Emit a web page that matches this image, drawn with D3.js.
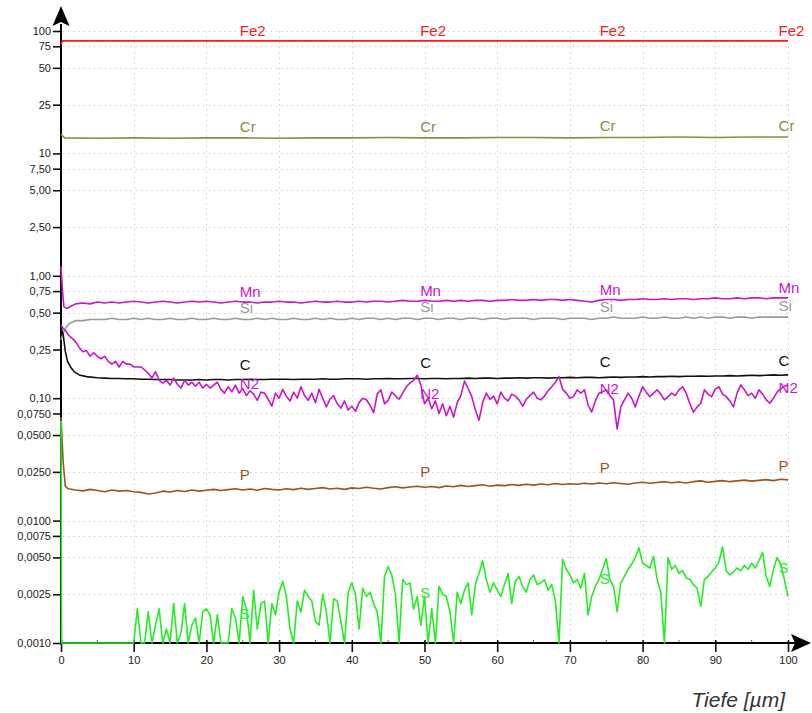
<!DOCTYPE html>
<html>
<head>
<meta charset="utf-8">
<script src="https://cdn.jsdelivr.net/npm/d3@7"></script>
<style>
  body { margin: 0; background: #fff; }
  svg { display: block; }
</style>
</head>
<body>
<svg id="chart" width="812" height="713"></svg>
<script>
// ---------- axis ticks ----------
const depthTicks = [0, 10, 20, 30, 40, 50, 60, 70, 80, 90, 100];
const depthMinorTicks = [5, 15, 25, 35, 45, 55, 65, 75, 85, 95];
const concTicks = [100, 75, 50, 25, 10, 7.5, 5, 2.5, 1, 0.75, 0.5, 0.25, 0.1,
                   0.075, 0.05, 0.025, 0.01, 0.0075, 0.005, 0.0025, 0.001];
const concTickLabels = ["100", "75", "50", "25", "10", "7,50", "5,00", "2,50", "1,00",
                        "0,75", "0,50", "0,25", "0,10", "0,0750", "0,0500", "0,0250",
                        "0,0100", "0,0075", "0,0050", "0,0025", "0,0010"];
const labelDepths = [24.6, 49.4, 74.1, 98.7];
const axisTitle = "Tiefe [µm]";

// ---------- element profiles (depth µm, concentration) ----------
// each profile: explicit start points, then values on a regular depth grid
const fe2Head = [[0, 78], [0.2, 83]];
const fe2Values = [83, 83, 83, 83, 83, 83, 83, 83, 83, 83];               // 10..100 step 10

const crHead = [[0, 14.3], [0.5, 13.4]];
const crValues = [13.3, 13.4, 13.3, 13.4, 13.4, 13.3, 13.4, 13.4, 13.5, 13.4,
                  13.4, 13.5, 13.5, 13.4, 13.5, 13.5, 13.6, 13.5, 13.6, 13.6]; // 5..100 step 5

const mnHead = [[0, 1.2], [0.2, 0.75], [0.4, 0.56], [0.8, 0.54], [1.5, 0.57]];
const mnValues = [                                                         // 2..100 step 1
  0.59, 0.60, 0.59, 0.61, 0.60, 0.61, 0.60, 0.61, 0.62,
  0.61, 0.60, 0.61, 0.62, 0.61, 0.60, 0.61, 0.62, 0.61, 0.62,
  0.61, 0.60, 0.61, 0.62, 0.61, 0.61, 0.60, 0.61, 0.61, 0.62,
  0.61, 0.61, 0.60, 0.61, 0.62, 0.61, 0.61, 0.62, 0.61, 0.61,
  0.62, 0.61, 0.62, 0.62, 0.61, 0.62, 0.63, 0.62, 0.62, 0.63,
  0.62, 0.62, 0.63, 0.62, 0.63, 0.62, 0.63, 0.63, 0.62, 0.63,
  0.63, 0.64, 0.63, 0.63, 0.64, 0.63, 0.64, 0.64, 0.63, 0.64,
  0.63, 0.62, 0.61, 0.63, 0.64, 0.64, 0.63, 0.64, 0.64, 0.65,
  0.64, 0.64, 0.65, 0.64, 0.65, 0.65, 0.64, 0.65, 0.65, 0.66,
  0.65, 0.65, 0.66, 0.65, 0.66, 0.66, 0.65, 0.66, 0.66, 0.66];

const siHead = [[0, 0.30], [0.3, 0.34], [0.7, 0.38], [1.2, 0.41], [2, 0.43]];
const siValues = [                                                         // 3..100 step 1
  0.43, 0.44, 0.44, 0.44, 0.45, 0.44, 0.44, 0.45,
  0.44, 0.45, 0.44, 0.44, 0.45, 0.44, 0.44, 0.45, 0.44, 0.44,
  0.45, 0.44, 0.44, 0.45, 0.44, 0.44, 0.45, 0.44, 0.45, 0.44,
  0.44, 0.45, 0.44, 0.44, 0.45, 0.44, 0.45, 0.44, 0.44, 0.45,
  0.44, 0.45, 0.45, 0.44, 0.45, 0.44, 0.45, 0.45, 0.44, 0.45,
  0.45, 0.44, 0.45, 0.45, 0.44, 0.45, 0.45, 0.44, 0.45, 0.45,
  0.44, 0.45, 0.45, 0.45, 0.44, 0.45, 0.45, 0.45, 0.44, 0.45,
  0.45, 0.45, 0.44, 0.45, 0.45, 0.46, 0.45, 0.45, 0.45, 0.46,
  0.45, 0.45, 0.46, 0.45, 0.45, 0.46, 0.45, 0.46, 0.45, 0.46,
  0.46, 0.45, 0.46, 0.46, 0.45, 0.46, 0.46, 0.46, 0.46, 0.46];

const cHead = [[0, 0.38], [0.3, 0.33], [0.6, 0.24], [0.9, 0.20], [1.3, 0.18],
               [1.8, 0.165], [2.5, 0.155], [3.5, 0.150], [5, 0.147]];
const cValues = [                                                          // 6..100 step 1
  0.146, 0.145, 0.145, 0.144, 0.144,
  0.143, 0.143, 0.142, 0.142, 0.142, 0.141, 0.141, 0.141, 0.142, 0.141,
  0.142, 0.142, 0.141, 0.142, 0.142, 0.143, 0.142, 0.142, 0.143, 0.143,
  0.143, 0.142, 0.143, 0.143, 0.143, 0.144, 0.143, 0.143, 0.144, 0.144,
  0.144, 0.143, 0.144, 0.144, 0.145, 0.144, 0.144, 0.145, 0.145, 0.144,
  0.145, 0.145, 0.144, 0.145, 0.145, 0.146, 0.145, 0.146, 0.146, 0.145,
  0.146, 0.146, 0.147, 0.146, 0.147, 0.147, 0.146, 0.147, 0.147, 0.148,
  0.147, 0.148, 0.148, 0.147, 0.148, 0.149, 0.148, 0.149, 0.149, 0.150,
  0.149, 0.150, 0.150, 0.151, 0.150, 0.151, 0.151, 0.152, 0.151, 0.152,
  0.152, 0.153, 0.152, 0.153, 0.154, 0.153, 0.154, 0.155, 0.154, 0.155];

const n2Head = [[0, 0.40], [0.3, 0.37], [0.6, 0.36], [1, 0.33]];
const n2Values = [                                                         // 1.5..100 step 0.5
  0.31, 0.29, 0.26, 0.24, 0.245, 0.22, 0.235, 0.22, 0.21, 0.22,
  0.20, 0.19, 0.20, 0.18, 0.20, 0.19, 0.19, 0.18, 0.18, 0.18,
  0.17, 0.16, 0.146, 0.165, 0.14, 0.133, 0.14, 0.128, 0.146, 0.13,
  0.121, 0.14, 0.128, 0.135, 0.125, 0.135, 0.121, 0.13, 0.121, 0.128,
  0.135, 0.118, 0.110, 0.124, 0.113, 0.128, 0.110, 0.120, 0.105, 0.115,
  0.108, 0.096, 0.112, 0.110, 0.098, 0.086, 0.110, 0.100, 0.118, 0.104,
  0.095, 0.112, 0.100, 0.124, 0.105, 0.096, 0.110, 0.092, 0.118, 0.100,
  0.085, 0.098, 0.105, 0.090, 0.083, 0.095, 0.080, 0.086, 0.078, 0.092,
  0.100, 0.097, 0.088, 0.076, 0.108, 0.117, 0.090, 0.096, 0.112, 0.105,
  0.098, 0.110, 0.124, 0.133, 0.140, 0.154, 0.128, 0.090, 0.100, 0.082,
  0.095, 0.075, 0.090, 0.072, 0.086, 0.070, 0.092, 0.105, 0.138, 0.120,
  0.103, 0.080, 0.066, 0.092, 0.110, 0.098, 0.104, 0.090, 0.112, 0.100,
  0.095, 0.108, 0.104, 0.097, 0.086, 0.098, 0.105, 0.112, 0.100, 0.097,
  0.104, 0.115, 0.124, 0.135, 0.150, 0.118, 0.110, 0.100, 0.103, 0.117,
  0.110, 0.117, 0.088, 0.077, 0.095, 0.110, 0.113, 0.117, 0.105, 0.097,
  0.056, 0.085, 0.097, 0.110, 0.100, 0.085, 0.104, 0.124, 0.112, 0.103,
  0.110, 0.117, 0.108, 0.097, 0.103, 0.110, 0.105, 0.117, 0.124, 0.110,
  0.090, 0.077, 0.085, 0.091, 0.117, 0.108, 0.103, 0.119, 0.124, 0.108,
  0.103, 0.095, 0.085, 0.110, 0.128, 0.117, 0.105, 0.110, 0.100, 0.117,
  0.108, 0.097, 0.091, 0.100, 0.112, 0.120, 0.125, 0.128];

const pHead = [[0, 0.07], [0.3, 0.03], [0.6, 0.019]];
const pValues = [                                                          // 1..100 step 1
  0.0182, 0.0178, 0.0175, 0.0180, 0.0176, 0.0172, 0.0178, 0.0174, 0.0176, 0.0172,
  0.0170, 0.0165, 0.0168, 0.0174, 0.0171, 0.0176, 0.0173, 0.0178, 0.0174, 0.0177,
  0.0180, 0.0176, 0.0179, 0.0182, 0.0178, 0.0181, 0.0177, 0.0183, 0.0180, 0.0178,
  0.0182, 0.0179, 0.0184, 0.0180, 0.0183, 0.0186, 0.0181, 0.0184, 0.0180, 0.0185,
  0.0183, 0.0187, 0.0184, 0.0181, 0.0186, 0.0189, 0.0185, 0.0188, 0.0191, 0.0187,
  0.0190, 0.0186, 0.0192, 0.0189, 0.0194, 0.0190, 0.0193, 0.0196, 0.0191, 0.0195,
  0.0193, 0.0197, 0.0194, 0.0198, 0.0195, 0.0199, 0.0196, 0.0201, 0.0197, 0.0200,
  0.0198, 0.0202, 0.0199, 0.0203, 0.0200, 0.0204, 0.0201, 0.0198, 0.0203, 0.0206,
  0.0202, 0.0205, 0.0208, 0.0204, 0.0207, 0.0203, 0.0208, 0.0211, 0.0206, 0.0209,
  0.0212, 0.0208, 0.0211, 0.0214, 0.0210, 0.0213, 0.0216, 0.0212, 0.0218, 0.0215];

const sHead = [[0, 0.065], [0.08, 0.001], [9.5, 0.001]];
const sValues = [                                                          // 10..100 step 0.5
  0.001, 0.0019, 0.001, 0.001, 0.0018, 0.001, 0.0014, 0.0019, 0.001, 0.0013,
  0.001, 0.0021, 0.001, 0.0012, 0.0021, 0.001, 0.0014, 0.0016, 0.001, 0.0018,
  0.0019, 0.0017, 0.001, 0.0017, 0.001, 0.001, 0.001, 0.0019, 0.0016, 0.001,
  0.0024, 0.0019, 0.001, 0.0027, 0.0013, 0.0021, 0.0022, 0.001, 0.0021, 0.0017,
  0.0026, 0.0032, 0.0024, 0.0013, 0.001, 0.0022, 0.0018, 0.0027, 0.0024, 0.0022,
  0.0015, 0.0014, 0.0025, 0.0018, 0.001, 0.0023, 0.0022, 0.0015, 0.001, 0.0026,
  0.0031, 0.0025, 0.0013, 0.0028, 0.0024, 0.0026, 0.0021, 0.0018, 0.001, 0.0035,
  0.0042, 0.0036, 0.0025, 0.001, 0.0033, 0.0030, 0.0031, 0.0019, 0.0024, 0.0014,
  0.0024, 0.001, 0.0019, 0.001, 0.0029, 0.0025, 0.0024, 0.0018, 0.001, 0.0026,
  0.0021, 0.0027, 0.0031, 0.0017, 0.0030, 0.0037, 0.0047, 0.0033, 0.0026, 0.0031,
  0.0027, 0.0024, 0.0030, 0.0037, 0.0021, 0.0032, 0.0035, 0.0029, 0.0026, 0.0033,
  0.0036, 0.0030, 0.0031, 0.0033, 0.0027, 0.0030, 0.0022, 0.001, 0.0048, 0.0040,
  0.0036, 0.0031, 0.0033, 0.0028, 0.0037, 0.0017, 0.0024, 0.0029, 0.0033, 0.0040,
  0.0049, 0.0033, 0.0029, 0.0018, 0.0031, 0.0035, 0.0040, 0.0044, 0.0050, 0.0060,
  0.0045, 0.0043, 0.0041, 0.0051, 0.0033, 0.0026, 0.001, 0.0050, 0.0040, 0.0043,
  0.0037, 0.0039, 0.0034, 0.0033, 0.0030, 0.0028, 0.0020, 0.0033, 0.0035, 0.0038,
  0.0041, 0.0046, 0.0061, 0.0039, 0.0036, 0.0038, 0.0041, 0.0039, 0.0043, 0.0040,
  0.0045, 0.0041, 0.0047, 0.0055, 0.0035, 0.0029, 0.0040, 0.0050, 0.0044, 0.0033,
  0.0024];

// ---------- assemble profiles ----------
function profile(head, start, step, values) {
  return head.concat(values.map((v, i) => [start + i * step, v]));
}
// labelDy: baseline offset of the element name relative to the local profile level
const series = [
  { name: "Fe2", color: "#ff1a1a", labelDy: -5,  points: profile(fe2Head, 10, 10, fe2Values) },
  { name: "Cr",  color: "#8c8c40", labelDy: -6,  points: profile(crHead, 5, 5, crValues) },
  { name: "Mn",  color: "#cc14cc", labelDy: -5,  points: profile(mnHead, 2, 1, mnValues) },
  { name: "Si",  color: "#9a9a9a", labelDy: -6,  points: profile(siHead, 3, 1, siValues) },
  { name: "C",   color: "#111111", labelDy: -10, points: profile(cHead, 6, 1, cValues) },
  { name: "N2",  color: "#cc14cc", labelDy: -1,  points: profile(n2Head, 1.5, 0.5, n2Values) },
  { name: "P",   color: "#a0521a", labelDy: -10, points: profile(pHead, 1, 1, pValues) },
  { name: "S",   color: "#22ee22", labelDy: 4,   points: profile(sHead, 10, 0.5, sValues) }
];

// ---------- layout ----------
const svg = d3.select("#chart");
const font = "Arial, 'Liberation Sans', sans-serif";
const x = d3.scaleLinear().domain([0, 100]).range([61, 788]);
const y = d3.scaleLog().domain([0.001, 100]).range([643, 31]);

// dotted grid
const grid = svg.append("g").attr("stroke", "#c4c4c4").attr("stroke-width", 1)
  .attr("stroke-dasharray", "1.2,4");
grid.selectAll("line.h").data(concTicks.filter(v => v > 0.001)).join("line")
  .attr("x1", x(0) + 2).attr("x2", x(100))
  .attr("y1", d => Math.round(y(d)) + 0.5).attr("y2", d => Math.round(y(d)) + 0.5);
grid.selectAll("line.v").data(depthTicks.filter(d => d > 0)).join("line")
  .attr("x1", d => Math.round(x(d)) + 0.5).attr("x2", d => Math.round(x(d)) + 0.5)
  .attr("y1", y(0.001) - 2).attr("y2", y(100));

// y axis (concentration)
const yAxis = svg.append("g").attr("transform", `translate(${x(0)},0)`)
  .call(d3.axisLeft(y).tickValues(concTicks)
    .tickFormat((d, i) => concTickLabels[i]).tickSize(8).tickPadding(2));
yAxis.select(".domain").remove();
yAxis.selectAll(".tick line").attr("stroke", "#111").attr("stroke-width", 1.6);
yAxis.selectAll(".tick text").attr("font-family", font).attr("font-size", 11)
  .attr("fill", "#222");

// x axis (depth)
const xAxis = svg.append("g").attr("transform", `translate(0,${y(0.001)})`)
  .call(d3.axisBottom(x).tickValues(depthTicks).tickFormat(d3.format("d"))
    .tickSize(9).tickPadding(4));
xAxis.select(".domain").remove();
xAxis.selectAll(".tick line").attr("stroke", "#111").attr("stroke-width", 1.6)
  .attr("y1", -3);
xAxis.selectAll(".tick text").attr("font-family", font).attr("font-size", 11)
  .attr("fill", "#222");
svg.append("g").selectAll("line").data(depthMinorTicks).join("line")
  .attr("x1", d => x(d)).attr("x2", d => x(d))
  .attr("y1", y(0.001) - 3).attr("y2", y(0.001) + 1)
  .attr("stroke", "#666").attr("stroke-width", 1);

// axis lines with arrow heads
const axisG = svg.append("g").attr("fill", "#000").attr("stroke", "#000");
axisG.append("line").attr("x1", x(0)).attr("x2", x(0))
  .attr("y1", y(0.001) + 1).attr("y2", 24).attr("stroke-width", 2);
axisG.append("path").attr("stroke", "none")
  .attr("d", `M${x(0)},6 L${x(0) + 8.5},26 L${x(0)},22 L${x(0) - 8.5},26 Z`);
axisG.append("line").attr("x1", x(0) - 1).attr("x2", 796)
  .attr("y1", y(0.001)).attr("y2", y(0.001)).attr("stroke-width", 2);
axisG.append("path").attr("stroke", "none")
  .attr("d", `M811,${y(0.001)} L791,${y(0.001) - 9} L795,${y(0.001)} L791,${y(0.001) + 9} Z`);

// profile lines
const line = d3.line().x(d => x(d[0])).y(d => y(d[1]));
svg.append("g").selectAll("path").data(series).join("path")
  .attr("d", d => line(d.points))
  .attr("fill", "none")
  .attr("stroke", d => d.color)
  .attr("stroke-width", 1.6)
  .attr("stroke-linejoin", "round");

// element names along each profile, placed at the smoothed local level
function localLevel(points, depth) {
  const vals = points.filter(p => Math.abs(p[0] - depth) <= 10).map(p => p[1]);
  return d3.median(vals);
}
const labelData = series.flatMap(s => labelDepths.map(dp => ({
  s, dp, v: localLevel(s.points, dp)
})));
svg.append("g").selectAll("text").data(labelData).join("text")
  .attr("x", d => x(d.dp))
  .attr("y", d => y(d.v) + d.s.labelDy)
  .attr("font-family", font).attr("font-size", 15)
  .attr("fill", d => d.s.color)
  .text(d => d.s.name);

// axis title
svg.append("text").attr("x", 785).attr("y", 707).attr("text-anchor", "end")
  .attr("font-family", font).attr("font-size", 21).attr("font-style", "italic")
  .attr("fill", "#333").text(axisTitle);
</script>
</body>
</html>
